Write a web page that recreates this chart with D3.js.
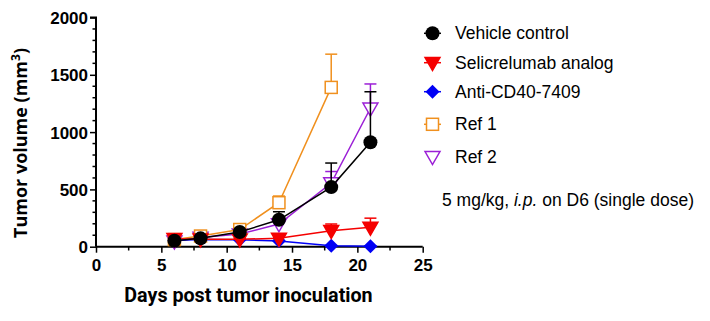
<!DOCTYPE html>
<html><head><meta charset="utf-8">
<script src="https://cdn.jsdelivr.net/npm/d3@7"></script>
<style>body{margin:0;background:#fff}svg{display:block}</style>
</head><body>
<svg id="c" width="710" height="321"></svg>
<script>
const days = [6, 8, 11, 14, 18, 21];
const ref1Days = [6, 8, 11, 14, 18];
const vehicle = [52, 73, 128, 235, 520, 912];
const vehicleErr = [10, 15, 20, 70, 210, 440];
const selic = [70, 65, 65, 73, 140, 169];
const selicErr = [12, 10, 10, 10, 58, 80];
const anti = [55, 62, 60, 50, 8, 5];
const antiErr = [5, 5, 5, 5, 2, 2];
const ref1 = [62, 93, 150, 384, 1390];
const ref1Err = [10, 15, 15, 58, 290];
const ref2 = [48, 80, 110, 198, 556, 1208];
const ref2Err = [8, 10, 15, 20, 100, 212];
const xTicks = [0, 5, 10, 15, 20, 25];
const yTicks = [0, 500, 1000, 1500, 2000];
const legendNames = ["Vehicle control", "Selicrelumab analog", "Anti-CD40-7409", "Ref 1", "Ref 2"];

const svg = d3.select("#c");
const x = d3.scaleLinear().domain([0, 25]).range([96, 422.7]);
const y = d3.scaleLinear().domain([0, 2000]).range([246.7, 17.5]);

const series = [
  {name: legendNames[4], xs: days, v: ref2, e: ref2Err, color: "#9b1fd6", sym: "tri", fill: "#fff"},
  {name: legendNames[3], xs: ref1Days, v: ref1, e: ref1Err, color: "#f0901e", sym: "sq", fill: "#fff"},
  {name: legendNames[2], xs: days, v: anti, e: antiErr, color: "#0000f5", sym: "dia", fill: "#0000f5"},
  {name: legendNames[1], xs: days, v: selic, e: selicErr, color: "#f50000", sym: "tri", fill: "#f50000"},
  {name: legendNames[0], xs: days, v: vehicle, e: vehicleErr, color: "#000", sym: "circ", fill: "#000"}
];

function drawSym(g, s, cx, cy) {
  if (s.sym === "circ") {
    g.append("circle").attr("cx", cx).attr("cy", cy).attr("r", 7).attr("fill", s.fill);
  } else if (s.sym === "tri") {
    const h = 6.5;
    g.append("path").attr("d", `M${cx-h*1.15},${cy-h*0.8}L${cx+h*1.15},${cy-h*0.8}L${cx},${cy+h*1.2}Z`)
      .attr("fill", s.fill).attr("stroke", s.color).attr("stroke-width", 1.5);
  } else if (s.sym === "dia") {
    g.append("path").attr("d", `M${cx},${cy-7}L${cx+7},${cy}L${cx},${cy+7}L${cx-7},${cy}Z`).attr("fill", s.fill);
  } else if (s.sym === "sq") {
    g.append("rect").attr("x", cx-6).attr("y", cy-6).attr("width", 12).attr("height", 12)
      .attr("fill", s.fill).attr("stroke", s.color).attr("stroke-width", 1.5);
  }
}

// axes
const yAxis = d3.axisLeft(y).tickValues(yTicks).tickSize(6).tickFormat(d3.format("d"));
const gy = svg.append("g").attr("transform", "translate(96,0)").call(yAxis);
const yMinor = d3.range(0, 2001, 100).filter(v => v % 500 !== 0);
svg.append("g").selectAll("line").data(yMinor).join("line")
  .attr("x1", 96).attr("x2", 92.5).attr("y1", d => y(d)).attr("y2", d => y(d)).attr("stroke", "#000").attr("stroke-width", 1.5);
const xAxis = d3.axisBottom(x).tickValues(xTicks).tickSize(6);
const gx = svg.append("g").attr("transform", "translate(0,246.7)").call(xAxis);
const xMinor = [2.5, 7.5, 12.5, 17.5, 22.5];
svg.append("g").selectAll("line").data(xMinor).join("line")
  .attr("x1", d => x(d)).attr("x2", d => x(d)).attr("y1", 246.7).attr("y2", 250.5).attr("stroke", "#000").attr("stroke-width", 1.5);
[gx, gy].forEach(g => {
  g.selectAll(".domain").attr("stroke", "#000").attr("stroke-width", 2);
  g.selectAll(".tick line").attr("stroke", "#000").attr("stroke-width", 1.5);
  g.selectAll(".tick text").attr("font-family", "Liberation Sans, Arial, sans-serif").attr("font-weight", "bold")
    .attr("font-size", 17).attr("fill", "#000");
});
gy.select(".domain").attr("d", `M-6,${y(2000)}H0V${y(0)}`);
gx.select(".domain").attr("d", `M${x(0)},0H${x(25)}`);
gy.selectAll(".tick text").attr("x", -8).attr("dy", "0.36em");
gx.selectAll(".tick text").attr("y", 12);

// axis titles
svg.append("text").attr("x", 248.5).attr("y", 302).attr("text-anchor", "middle")
  .attr("font-family", "Roboto, Open Sans, sans-serif").attr("font-weight", "bold").attr("font-size", 19.7).text("Days post tumor inoculation");
const yl = svg.append("text").attr("transform", "translate(27,143) rotate(-90)").attr("text-anchor", "middle")
  .attr("font-family", "Open Sans, sans-serif").attr("font-weight", "bold").attr("font-size", 18);
yl.append("tspan").text("Tumor volume (mm");
yl.append("tspan").attr("font-size", 12).attr("dy", -7).text("3");
yl.append("tspan").attr("dy", 7).text(")");

// series
series.forEach(s => {
  const g = svg.append("g");
  const pts = s.xs.map((d, i) => [d, s.v[i], s.e[i]]);
  pts.forEach(p => {
    g.append("line").attr("x1", x(p[0])).attr("x2", x(p[0])).attr("y1", y(p[1])).attr("y2", y(p[1] + p[2]))
      .attr("stroke", s.color).attr("stroke-width", 1.5);
    g.append("line").attr("x1", x(p[0]) - 6).attr("x2", x(p[0]) + 6).attr("y1", y(p[1] + p[2])).attr("y2", y(p[1] + p[2]))
      .attr("stroke", s.color).attr("stroke-width", 1.5);
  });
  g.append("path").datum(pts).attr("fill", "none").attr("stroke", s.color).attr("stroke-width", 1.5)
    .attr("d", d3.line().x(p => x(p[0])).y(p => y(p[1])));
  pts.forEach(p => drawSym(g, s, x(p[0]), y(p[1])));
});

// legend
const legendY = [33.3, 62.7, 91.7, 124.3, 156.7];
const legSeries = series.slice().reverse();
legSeries.forEach((s, i) => {
  const g = svg.append("g");
  const cy = legendY[i];
  if (s.fill !== "#fff" || s.sym === "sq") {
    g.append("line").attr("x1", 424).attr("x2", 441).attr("y1", cy).attr("y2", cy).attr("stroke", s.color).attr("stroke-width", 1.5);
  }
  drawSym(g, s, 432.5, cy);
  g.append("text").attr("x", 455).attr("y", cy + 6).attr("font-family", "Liberation Sans, Arial, sans-serif")
    .attr("font-size", 17.5).attr("fill", "#000").text(s.name);
});
const ann = svg.append("text").attr("x", 442).attr("y", 206).attr("font-family", "Liberation Sans, Arial, sans-serif")
  .attr("font-size", 17.5).attr("fill", "#000");
ann.append("tspan").text("5 mg/kg, ");
ann.append("tspan").attr("font-style", "italic").text("i.p.");
ann.append("tspan").text(" on D6 (single dose)");
</script>
</body></html>
